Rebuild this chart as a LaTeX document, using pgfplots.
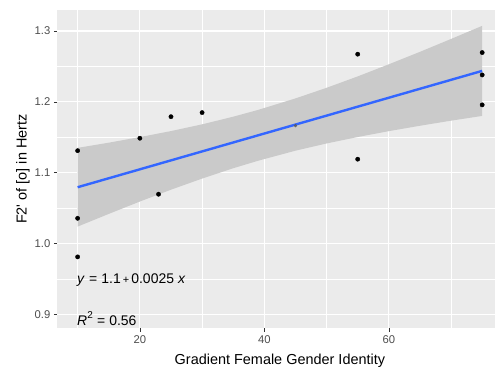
\documentclass[border=0pt]{standalone}
\usepackage{fontspec}
\setmainfont{Liberation Sans}
\usepackage{pgfplots}
\pgfplotsset{compat=1.18}
\definecolor{panel}{HTML}{EBEBEB}
\definecolor{band}{HTML}{CACACA}
\definecolor{smoothc}{HTML}{3366FF}
\definecolor{ticklab}{HTML}{4D4D4D}
\definecolor{tickcol}{HTML}{333333}
\begin{document}
\begin{tikzpicture}
\begin{axis}[
  name=ax, at={(0,0)}, anchor=south west,
  scale only axis, width=445bp, height=318.4bp,
  xmin=6.75, xmax=78.25, ymin=0.880, ymax=1.3297,
  axis background/.style={fill=panel},
  axis line style={draw=none},
  xtick={20,40,60}, ytick={0.9,1.0,1.1,1.2,1.3},
  minor xtick={10,30,50,70}, minor ytick={0.95,1.05,1.15,1.25},
  grid=both,
  major grid style={white, line width=1.1bp},
  minor grid style={white, line width=0.55bp},
  xtick pos=bottom, ytick pos=left,
  tick align=outside,
  major tick length=3.5bp, minor tick length=0pt,
  tick style={tickcol, line width=0.6bp},
  /pgf/number format/assume math mode=true,
  ticklabel style={font=\fontsize{11.3}{12}\selectfont, text=ticklab},
  yticklabel style={/pgf/number format/.cd, fixed, fixed zerofill, precision=1},
  every axis x label/.style={at={(axis description cs:0.5,-0.1005)}, anchor=center},
  every axis y label/.style={at={(axis description cs:-0.0773,0.5)}, rotate=90, anchor=center},
  label style={font=\fontsize{14.5}{16}\selectfont, text=black},
  xlabel={Gradient Female Gender Identity},
  ylabel={F2\textquotesingle{} of [o] in Hertz},
]
% confidence band
\addplot[draw=none, fill=band] coordinates {
 (10,1.1350) (15,1.1423) (20,1.1502) (25,1.1587) (30,1.1682) (35,1.1790)
 (39,1.1886) (45,1.2048) (50,1.2198) (55,1.2359) (60,1.2530) (65,1.2706)
 (70,1.2888) (75,1.3073)
 (75,1.1801) (70,1.1734) (65,1.1662) (60,1.1586) (55,1.1503) (50,1.1412)
 (45,1.1310) (39,1.1168) (35,1.1062) (30,1.0916) (25,1.0759) (20,1.0592)
 (15,1.0417) (10,1.0238)
} -- cycle;
% points
\addplot[only marks, mark=*, mark size=2.15bp, black] coordinates {
 (10,1.131) (10,1.0355) (10,0.981) (20,1.1486) (23,1.0695) (25,1.179)
 (30,1.1848) (55,1.2673) (55,1.119) (75,1.2696) (75,1.238) (75,1.1957)
};
% regression line
\addplot[smoothc, line width=2.4bp] coordinates {(10,1.0794) (75,1.2437)};
% point hidden under the line
\addplot[only marks, mark=*, mark size=1.5bp, color=black!65, opacity=0.8] coordinates {(45,1.1664)};
\node[anchor=west, inner sep=0pt, font=\fontsize{14}{15}\selectfont] at (axis cs:9.9,0.948)
  {\textit{y}\hspace{0.3em}=\hspace{0.3em}1.1\hspace{0.15em}{\fontsize{11}{12}\selectfont+}\hspace{0.15em}0.0025\hspace{0.3em}\textit{x}};
\node[anchor=west, inner sep=0pt, font=\fontsize{14}{15}\selectfont] at (axis cs:9.9,0.894)
  {\textit{R}\raisebox{0.55em}{\fontsize{10}{11}\selectfont 2}\hspace{0.3em}=\hspace{0.3em}0.56};
\end{axis}
\pgfresetboundingbox
\path[use as bounding box] (-57.4bp,-39bp) rectangle (437.6bp,328.4bp);
\end{tikzpicture}
\end{document}
